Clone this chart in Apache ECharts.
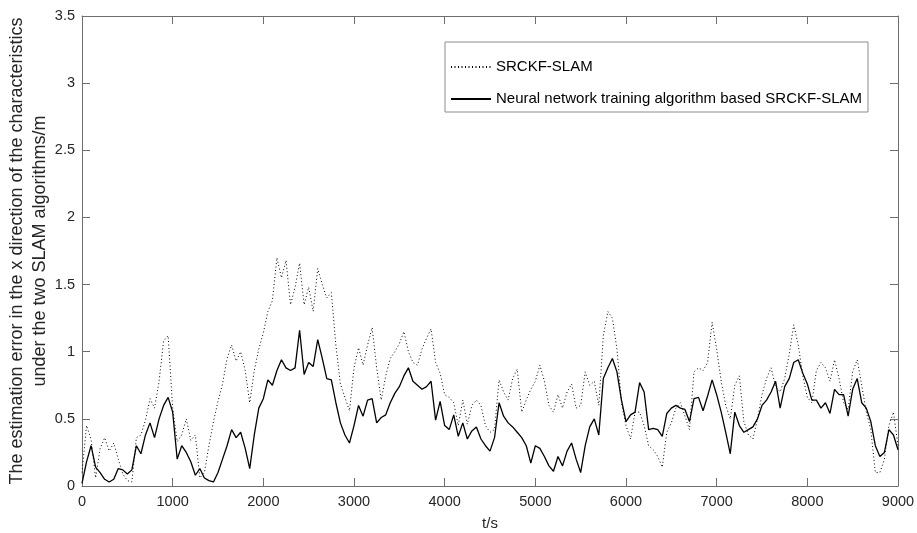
<!DOCTYPE html>
<html>
<head>
<meta charset="utf-8">
<script src="https://cdn.jsdelivr.net/npm/echarts@6/dist/echarts.min.js"></script>
<style>
  html, body { margin: 0; padding: 0; background: #fff; }
  #chart { width: 917px; height: 533px; }
</style>
</head>
<body>
<div id="chart"></div>
<script>
// Sampling instants (s), one sample every 50 s from 0 to 9000 s
const sampleStep = 50;
const sampleCount = 181;
const times = Array.from({ length: sampleCount }, (_, i) => i * sampleStep);

// x-direction feature estimation error (m), plain SRCKF-SLAM
const srckfError = [
  0.10,0.45,0.35,0.06,0.28,0.36,0.26,0.32,0.20,0.09,
  0.04,0.03,0.36,0.38,0.49,0.65,0.58,0.78,1.08,1.12,
  0.58,0.33,0.38,0.50,0.34,0.38,0.06,0.10,0.30,0.48,
  0.63,0.76,0.95,1.05,0.93,1.00,0.86,0.62,0.86,1.02,
  1.14,1.30,1.38,1.70,1.55,1.68,1.35,1.48,1.66,1.35,
  1.48,1.30,1.62,1.50,1.40,1.44,1.05,0.76,0.66,0.56,
  0.88,1.03,0.90,1.05,1.18,0.88,0.64,0.82,0.95,1.00,
  1.06,1.15,1.00,0.92,0.90,1.02,1.10,1.17,0.92,0.84,
  0.68,0.66,0.62,0.45,0.64,0.46,0.60,0.64,0.60,0.45,
  0.40,0.42,0.79,0.70,0.64,0.80,0.87,0.55,0.64,0.72,
  0.78,0.90,0.78,0.60,0.55,0.68,0.58,0.70,0.76,0.58,
  0.60,0.85,0.75,0.78,0.60,1.12,1.30,1.25,1.02,0.62,
  0.45,0.35,0.55,0.55,0.45,0.30,0.27,0.22,0.14,0.40,
  0.47,0.58,0.62,0.52,0.42,0.85,0.88,0.86,0.92,1.22,
  1.02,0.78,0.60,0.50,0.75,0.82,0.48,0.38,0.35,0.50,
  0.68,0.80,0.88,0.74,0.70,0.80,0.98,1.20,1.05,0.82,
  0.66,0.62,0.86,0.92,0.88,0.78,0.94,0.80,0.62,0.57,
  0.85,0.94,0.75,0.55,0.42,0.10,0.10,0.20,0.45,0.55,
  0.30
];

// x-direction feature estimation error (m), SRCKF-SLAM with neural network training
const nnSrckfError = [
  0.02,0.18,0.30,0.14,0.10,0.05,0.03,0.05,0.13,0.12,
  0.09,0.12,0.30,0.24,0.38,0.47,0.36,0.50,0.60,0.66,
  0.55,0.20,0.30,0.25,0.18,0.08,0.13,0.06,0.04,0.03,
  0.10,0.20,0.30,0.42,0.36,0.40,0.28,0.13,0.38,0.58,
  0.65,0.79,0.75,0.86,0.94,0.88,0.86,0.88,1.16,0.83,
  0.92,0.89,1.09,0.95,0.80,0.79,0.62,0.47,0.38,0.32,
  0.45,0.60,0.52,0.64,0.65,0.47,0.51,0.53,0.62,0.69,
  0.74,0.82,0.88,0.78,0.75,0.72,0.74,0.78,0.49,0.63,
  0.45,0.42,0.53,0.37,0.47,0.35,0.41,0.44,0.35,0.30,
  0.26,0.36,0.62,0.52,0.47,0.44,0.40,0.36,0.30,0.17,
  0.30,0.28,0.22,0.15,0.11,0.22,0.15,0.26,0.32,0.20,
  0.10,0.30,0.44,0.50,0.38,0.80,0.88,0.95,0.85,0.64,
  0.48,0.53,0.55,0.77,0.70,0.42,0.43,0.42,0.37,0.54,
  0.58,0.60,0.58,0.57,0.48,0.65,0.66,0.56,0.67,0.79,
  0.68,0.55,0.40,0.24,0.55,0.45,0.40,0.42,0.44,0.50,
  0.60,0.64,0.70,0.78,0.58,0.74,0.80,0.92,0.94,0.84,
  0.76,0.64,0.64,0.58,0.62,0.54,0.72,0.68,0.68,0.52,
  0.72,0.80,0.62,0.58,0.48,0.30,0.22,0.25,0.42,0.38,
  0.27
];

const seriesNames = ['SRCKF-SLAM', 'Neural network training algorithm based SRCKF-SLAM'];
const xAxisName = 't/s';
const yAxisName = 'The estimation error in the x direction of the characteristics\nunder the two SLAM algorithms/m';

const pair = vals => times.map((t, i) => [t, vals[i]]);

const font = 'Liberation Sans, Arial, sans-serif';
const axisGray = '#6e6e6e';
const textDark = '#262626';

// Shared frame style: every side of the box carries an inward tick
function frameAxis(extra) {
  return Object.assign({
    axisLine: { show: true, onZero: false, lineStyle: { color: axisGray, width: 1 } },
    axisTick: { show: true, inside: true, length: 8, lineStyle: { color: axisGray } },
    splitLine: { show: false }
  }, extra);
}

const chart = echarts.init(document.getElementById('chart'), null, { renderer: 'canvas' });
chart.setOption({
  animation: false,
  backgroundColor: '#ffffff',
  grid: { left: 82, right: 19, top: 16, bottom: 47, containLabel: false, outerBoundsMode: 'none' },
  legend: {
    orient: 'vertical',
    left: 445,
    top: 42,
    padding: [17, 6, 5, 5],
    itemWidth: 40,
    itemHeight: 14,
    itemGap: 16,
    backgroundColor: '#ffffff',
    borderColor: '#8c8c8c',
    borderWidth: 1,
    borderRadius: 0,
    itemStyle: { opacity: 0 },
    textStyle: { fontFamily: font, fontSize: 15, color: '#000', lineHeight: 16 },
    data: seriesNames
  },
  xAxis: [
    frameAxis({
      type: 'value', min: 0, max: 9000, interval: 1000, position: 'bottom',
      name: xAxisName, nameLocation: 'middle', nameGap: 30, nameMoveOverlap: false,
      nameTextStyle: { fontFamily: font, fontSize: 15, color: textDark },
      axisLabel: { margin: 8, fontFamily: font, fontSize: 14.5, color: textDark, formatter: v => String(v) }
    }),
    frameAxis({
      type: 'value', min: 0, max: 9000, interval: 1000, position: 'top',
      axisLabel: { show: false }
    })
  ],
  yAxis: [
    frameAxis({
      type: 'value', min: 0, max: 3.5, interval: 0.5, position: 'left',
      name: yAxisName, nameLocation: 'middle', nameGap: 30, nameRotate: 90, nameMoveOverlap: false,
      nameTextStyle: { fontFamily: font, fontSize: 18, color: textDark, lineHeight: 23, align: 'center' },
      axisLabel: { margin: 7, fontFamily: font, fontSize: 14.5, color: textDark, formatter: v => String(v) }
    }),
    frameAxis({
      type: 'value', min: 0, max: 3.5, interval: 0.5, position: 'right',
      axisLabel: { show: false }
    })
  ],
  series: [
    {
      name: seriesNames[0], type: 'line', xAxisIndex: 0, yAxisIndex: 0,
      data: pair(srckfError), showSymbol: false, symbol: 'none',
      lineStyle: { color: '#000', width: 1, type: [1, 2.5] },
      itemStyle: { color: '#000' }
    },
    {
      name: seriesNames[1], type: 'line', xAxisIndex: 0, yAxisIndex: 0,
      data: pair(nnSrckfError), showSymbol: false, symbol: 'none',
      lineStyle: { color: '#000', width: 1.3, type: 'solid' },
      itemStyle: { color: '#000' }
    }
  ]
});
</script>
</body>
</html>
